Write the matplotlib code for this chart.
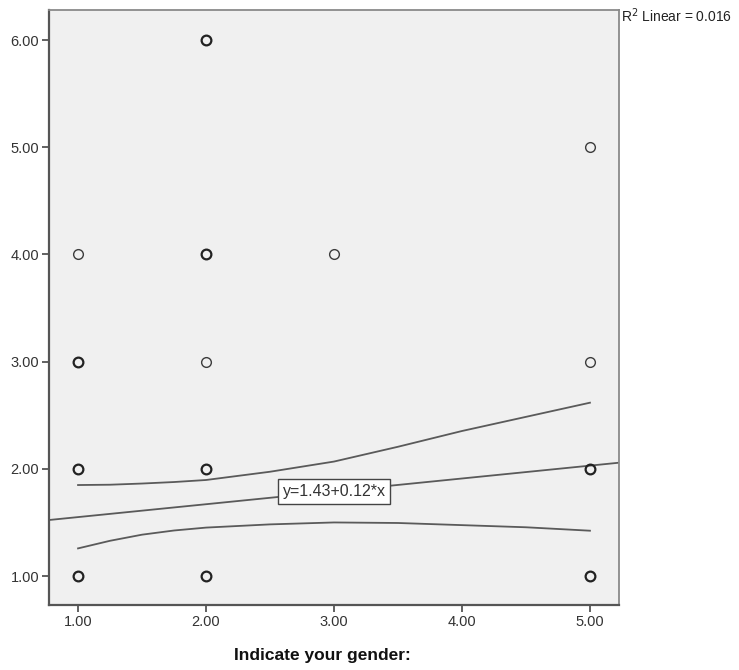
import matplotlib.pyplot as plt
import numpy as np

plt.rcParams['font.family'] = ['Liberation Sans', 'DejaVu Sans']

# scatter points: gender code, response, number of cases at that spot
gender = [1, 1, 1, 1, 2, 2, 2, 2, 2, 3, 5, 5, 5, 5]
response = [1, 2, 3, 4, 1, 2, 3, 4, 6, 4, 1, 2, 3, 5]
counts = [3, 3, 2, 1, 3, 3, 1, 2, 2, 1, 2, 2, 1, 1]

# linear fit
intercept = 1.43
slope = 0.12
r_squared = 0.016

# 95% confidence band of the mean
band_x = [1.0, 1.25, 1.5, 1.75, 2.0, 2.5, 3.0, 3.5, 4.0, 4.5, 5.0]
band_upper = [1.849, 1.852, 1.863, 1.877, 1.896, 1.973, 2.068, 2.206,
              2.353, 2.485, 2.617]
band_lower = [1.258, 1.329, 1.386, 1.425, 1.452, 1.482, 1.500, 1.495,
              1.475, 1.455, 1.423]

xticks = [1, 2, 3, 4, 5]
yticks = [1, 2, 3, 4, 5, 6]

fig = plt.figure(figsize=(7.39, 6.70), dpi=100)
ax = fig.add_axes([49 / 739, 65 / 670, 570 / 739, 595 / 670])
ax.set_facecolor('#f0f0f0')

xlim = (0.773, 5.227)
ax.set_xlim(*xlim)
ax.set_ylim(0.73, 6.28)

line_col = '#5a5a5a'
xs = np.array(xlim)
ax.plot(xs, intercept + slope * xs, color=line_col, lw=1.3, zorder=2)
ax.plot(band_x, band_upper, color=line_col, lw=1.3, zorder=2)
ax.plot(band_x, band_lower, color=line_col, lw=1.3, zorder=2)

for gx, ry, n in zip(gender, response, counts):
    ax.plot(gx, ry, 'o', ms=7, mfc='none',
            mec='#222222' if n > 1 else '#3c3c3c',
            mew=1.6 if n > 1 else 1.0, zorder=3)

ax.text(3.0, intercept + slope * 3.0, 'y=1.43+0.12*x', fontsize=11.5,
        color='#333333', ha='center', va='center', zorder=4,
        bbox=dict(boxstyle='square,pad=0.3', fc='white', ec='#444444',
                  lw=1.0))

ax.set_xticks(xticks)
ax.set_xticklabels([f'{v:.2f}' for v in xticks])
ax.set_yticks(yticks)
ax.set_yticklabels([f'{v:.2f}' for v in yticks])
ax.tick_params(direction='out', length=5, width=1.3, colors='#555555',
               labelcolor='#333333', labelsize=10.5, pad=2)

for side in ['left', 'bottom']:
    ax.spines[side].set_color('#555555')
    ax.spines[side].set_linewidth(1.6)
for side in ['top', 'right']:
    ax.spines[side].set_color('#8a8a8a')
    ax.spines[side].set_linewidth(1.3)

ax.set_xlabel('Indicate your gender:', fontsize=12.5, fontweight='bold',
              color='#111111')
ax.xaxis.set_label_coords(0.479, -0.072)

fig.text(621 / 739, 1 - 16 / 670, f'R$^2$ Linear = {r_squared:.3f}',
         fontsize=10, color='#222222', ha='left', va='center')

fig.savefig('out.png', dpi=100)
